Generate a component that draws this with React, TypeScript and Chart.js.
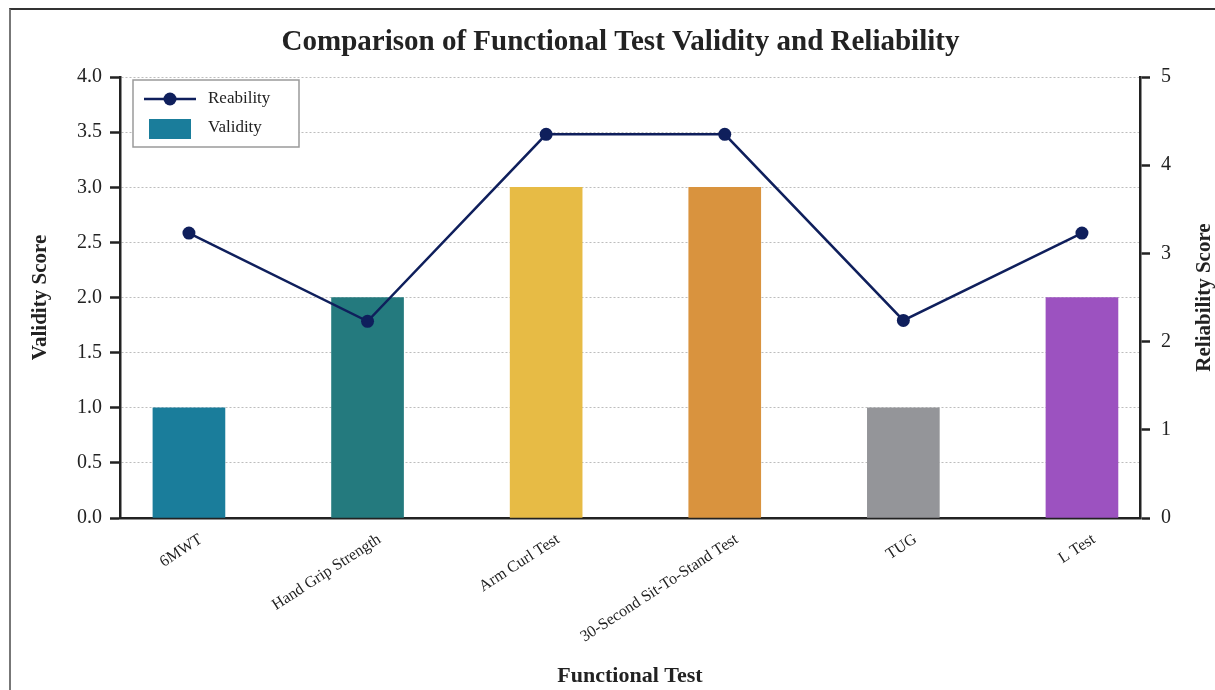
import { useEffect, useRef } from 'react';
import { Chart, registerables } from 'chart.js';

Chart.register(...registerables);

const categories = ['6MWT', 'Hand Grip Strength', 'Arm Curl Test', '30-Second Sit-To-Stand Test', 'TUG', 'L Test'];
const validity = [1, 2, 3, 3, 1, 2];
const reliability = [3.23, 2.23, 4.35, 4.35, 2.24, 3.23];
const barColors = ['#1a7d9b', '#247a7e', '#e7bb45', '#d9933e', '#949599', '#9c52c0'];
const lineColor = '#0f1f5c';
const legendLabels = ['Reability', 'Validity'];
const chartTitle = 'Comparison of Functional Test Validity and Reliability';

const SERIF = "'Liberation Serif', 'DejaVu Serif', serif";
const INK = '#222';

const overlayPlugin = {
  id: 'overlay',
  afterDraw(chart: any) {
    const { ctx, chartArea } = chart;
    // chart title
    ctx.save();
    ctx.font = `bold 29px ${SERIF}`;
    ctx.fillStyle = INK;
    ctx.textAlign = 'center';
    ctx.textBaseline = 'alphabetic';
    ctx.fillText(chartTitle, chart.width / 2 + 13, 50);
    ctx.restore();

    // right axis title, reading bottom-to-top
    ctx.save();
    ctx.translate(chart.width - 10.5, (chartArea.top + chartArea.bottom) / 2);
    ctx.rotate(-Math.PI / 2);
    ctx.font = `bold 21px ${SERIF}`;
    ctx.fillStyle = INK;
    ctx.textAlign = 'center';
    ctx.textBaseline = 'middle';
    ctx.fillText('Reliability Score', 0, 0);
    ctx.restore();

    // legend
    const bx = chartArea.left + 13;
    const by = chartArea.top + 3;
    const bw = 166;
    const bh = 67;
    ctx.save();
    ctx.fillStyle = '#ffffff';
    ctx.fillRect(bx, by, bw, bh);
    ctx.strokeStyle = '#9a9a9a';
    ctx.lineWidth = 1.5;
    ctx.strokeRect(bx, by, bw, bh);
    const ly = by + 19;
    ctx.strokeStyle = lineColor;
    ctx.lineWidth = 2.5;
    ctx.beginPath();
    ctx.moveTo(bx + 11, ly);
    ctx.lineTo(bx + 63, ly);
    ctx.stroke();
    ctx.fillStyle = lineColor;
    ctx.beginPath();
    ctx.arc(bx + 37, ly, 6.5, 0, Math.PI * 2);
    ctx.fill();
    ctx.fillStyle = barColors[0];
    ctx.fillRect(bx + 16, by + 39, 42, 20);
    ctx.fillStyle = INK;
    ctx.font = `17px ${SERIF}`;
    ctx.textAlign = 'left';
    ctx.textBaseline = 'middle';
    ctx.fillText(legendLabels[0], bx + 75, ly);
    ctx.fillText(legendLabels[1], bx + 75, by + 48);
    ctx.restore();
  },
};

export default function App() {
  const ref = useRef<HTMLCanvasElement | null>(null);

  useEffect(() => {
    if (!ref.current) return;
    Chart.defaults.font.family = SERIF;
    const chart = new Chart(ref.current, {
      type: 'bar',
      data: {
        datasets: [
          {
            type: 'line',
            label: legendLabels[0],
            data: categories.map((_, i) => ({ x: i, y: reliability[i] })),
            yAxisID: 'y1',
            xAxisID: 'x',
            borderColor: lineColor,
            backgroundColor: lineColor,
            borderWidth: 2.5,
            pointRadius: 6.5,
            pointBorderWidth: 0,
            pointBackgroundColor: lineColor,
            tension: 0,
            order: 0,
          } as any,
          {
            type: 'bar',
            label: legendLabels[1],
            data: categories.map((_, i) => ({ x: i, y: validity[i] })),
            yAxisID: 'y',
            xAxisID: 'x',
            backgroundColor: barColors,
            borderWidth: 0,
            barThickness: 72,
            order: 1,
          } as any,
        ],
      },
      options: {
        responsive: false,
        animation: false,
        devicePixelRatio: 1,
        layout: { padding: { top: 77, left: 0, right: 0, bottom: 0 } },
        plugins: {
          legend: { display: false },
          tooltip: { enabled: false },
          title: { display: false },
        },
        scales: {
          x: {
            type: 'linear',
            position: 'bottom',
            offset: false,
            min: -0.386,
            max: 5.325,
            afterBuildTicks: (s: any) => {
              s.ticks = categories.map((_, i) => ({ value: i }));
            },
            afterFit: (s: any) => {
              s.height = 172;
            },
            grid: { display: false, drawTicks: false, tickLength: 0, offset: false },
            border: { display: true, color: INK, width: 2.5 },
            ticks: {
              autoSkip: false,
              minRotation: 33,
              maxRotation: 33,
              padding: 12,
              labelOffset: 12,
              color: INK,
              font: { size: 16, family: SERIF },
              callback: (v: any) => categories[v as number] ?? '',
            },
            title: {
              display: true,
              text: 'Functional Test',
              color: INK,
              font: { size: 22, weight: 'bold', family: SERIF },
              padding: { top: 0, bottom: 0 },
            },
          },
          y: {
            type: 'linear',
            position: 'left',
            min: 0,
            max: 4,
            afterFit: (s: any) => {
              s.width = 120;
            },
            ticks: {
              stepSize: 0.5,
              padding: 8,
              color: INK,
              font: { size: 20, family: SERIF },
              callback: (v: any) => Number(v).toFixed(1),
            },
            grid: {
              color: '#bdbdbd',
              lineWidth: 1,
              drawTicks: true,
              tickLength: 10,
              tickColor: INK,
              tickWidth: 2.5,
            },
            border: { display: true, color: INK, width: 2.5, dash: [2, 2] },
            title: {
              display: true,
              text: 'Validity Score',
              color: INK,
              font: { size: 21, weight: 'bold', family: SERIF },
              padding: { top: 28, bottom: 0 },
            },
          },
          y1: {
            type: 'linear',
            position: 'right',
            min: 0,
            max: 5,
            afterFit: (s: any) => {
              s.width = 75;
            },
            ticks: {
              stepSize: 1,
              padding: 11,
              color: INK,
              font: { size: 20, family: SERIF },
              callback: (v: any) => String(v),
            },
            grid: {
              drawOnChartArea: false,
              drawTicks: true,
              tickLength: 10,
              tickColor: INK,
              tickWidth: 2.5,
            },
            border: { display: true, color: INK, width: 2.5 },
            title: { display: false },
          },
        },
      } as any,
      plugins: [overlayPlugin],
    });
    return () => chart.destroy();
  }, []);

  return (
    <>
      <div
        style={{
          position: 'fixed',
          left: 9,
          top: 8,
          width: 1400,
          height: 900,
          borderTop: '2px solid #333',
          borderLeft: '2px solid #777',
          boxSizing: 'border-box',
        }}
      />
      <canvas
        ref={ref}
        width={1215}
        height={690}
        style={{ position: 'fixed', left: 0, top: 0, width: 1215, height: 690 }}
      />
    </>
  );
}
